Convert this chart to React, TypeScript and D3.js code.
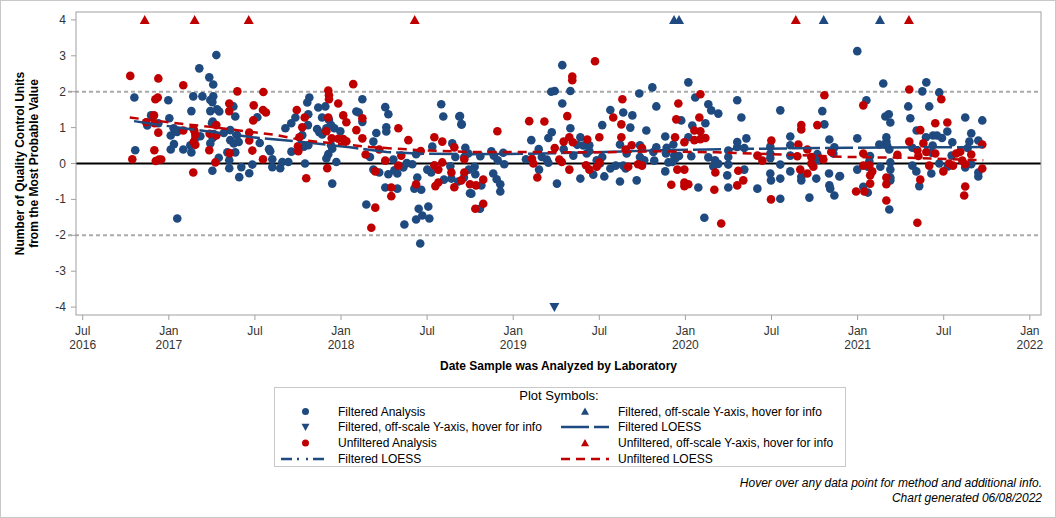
import React from "react";
import * as d3 from "d3";

// ---- data (decimal year, QC units) ----
const filteredAnalysis: [number, number][] = [
  [2017.276,3.02],[2017.177,2.65],[2017.235,2.40],[2017.258,2.20],[2016.800,1.84],[2017.142,1.87],[2017.195,1.87],[2017.258,1.87],[2016.997,1.76],[2017.241,1.77],[2017.253,1.71],[2017.131,1.46],[2017.241,1.46],[2017.280,1.51],[2017.293,1.45],[2017.375,1.59],[2017.386,1.31],[2016.897,1.34],[2017.003,1.26],[2016.875,1.06],[2016.939,1.12],[2017.255,1.17],[2017.251,1.12],[2017.028,0.98],[2017.048,0.88],[2017.011,0.78],[2017.183,0.76],[2017.154,0.70],[2017.255,0.71],[2017.261,0.82],[2017.319,0.85],[2017.357,0.93],[2017.396,0.79],[2017.357,0.65],[2017.377,0.56],[2017.406,0.60],[2017.514,1.29],[2017.528,0.57],[2017.030,0.54],[2017.011,0.39],[2017.084,0.39],[2017.131,0.31],[2017.125,0.51],[2017.241,0.56],[2017.340,0.31],[2017.386,0.31],[2017.351,0.09],[2016.805,0.37],[2017.582,0.40],[2017.589,0.34],[2017.601,0.12],[2017.290,0.16],[2017.351,-0.13],[2017.253,-0.20],[2017.421,-0.10],[2017.409,-0.38],[2017.467,-0.27],[2017.485,-0.03],[2017.601,-0.10],[2017.049,-1.53],
  [2017.816,1.84],[2017.804,1.70],[2018.124,1.79],[2017.868,1.56],[2017.909,1.59],[2018.089,1.45],[2018.103,1.42],[2018.257,1.57],[2018.275,1.37],[2017.735,1.28],[2017.711,1.12],[2017.677,0.98],[2017.810,1.37],[2017.808,1.07],[2017.890,1.28],[2017.930,1.21],[2017.942,1.07],[2017.861,0.96],[2017.874,0.87],[2017.891,0.81],[2017.915,0.98],[2017.961,0.98],[2017.996,0.90],[2018.263,1.01],[2018.263,0.89],[2018.124,1.16],[2018.205,0.85],[2018.188,0.61],[2018.582,1.65],[2018.594,1.31],[2018.687,1.31],[2018.699,1.09],[2017.775,0.79],[2017.785,0.47],[2017.810,0.51],[2017.712,0.33],[2017.942,0.51],[2017.949,0.41],[2017.926,0.26],[2017.915,0.14],[2017.973,0.04],[2017.791,0.00],[2017.647,-0.13],[2017.659,0.04],[2017.694,0.04],[2018.168,0.18],[2018.188,-0.17],[2018.222,-0.25],[2018.275,-0.30],[2018.304,0.11],[2018.310,-0.19],[2018.327,-0.28],[2018.362,-0.11],[2018.382,0.01],[2018.414,-0.02],[2018.436,0.26],[2018.443,-0.39],[2018.426,-0.70],[2018.466,-0.73],[2018.257,-0.67],[2018.327,-0.70],[2018.147,-1.14],[2018.451,-1.26],[2018.507,-1.20],[2018.436,-1.56],[2018.472,-1.45],[2018.513,-1.53],[2018.368,-1.70],[2018.460,-2.23],[2017.949,-0.56],[2018.530,0.47],[2018.646,0.56],[2018.664,0.18],[2018.722,0.44],[2018.716,0.18],[2018.501,-0.17],[2018.524,-0.25],[2018.635,-0.08],[2018.598,-0.45],[2018.641,-0.42],[2018.681,-0.50],[2018.749,-0.83],[2018.742,-0.17],
  [2019.285,2.74],[2019.221,2.00],[2019.241,2.02],[2019.332,2.02],[2019.285,1.67],[2018.691,1.32],[2018.701,1.09],[2019.332,0.98],[2019.224,0.87],[2019.204,0.71],[2019.105,0.65],[2019.564,1.49],[2019.639,1.42],[2019.692,1.34],[2019.517,1.07],[2019.680,1.00],[2019.732,1.95],[2019.808,2.12],[2019.831,1.59],[2019.773,0.92],[2019.390,0.73],[2019.372,0.52],[2019.407,0.50],[2019.442,0.51],[2019.427,0.28],[2019.442,0.35],[2019.148,0.40],[2019.166,0.18],[2019.195,0.11],[2019.204,0.02],[2019.074,0.12],[2019.293,0.40],[2019.349,0.22],[2018.873,0.34],[2018.887,0.22],[2018.910,0.09],[2018.942,0.30],[2018.948,-0.02],[2018.739,0.28],[2018.809,0.20],[2018.776,-0.09],[2018.780,-0.30],[2018.714,-0.39],[2018.884,-0.28],[2018.904,-0.44],[2018.925,-0.58],[2018.925,-0.78],[2018.757,-0.84],[2018.807,-1.26],[2018.815,-0.61],[2019.150,-0.17],[2019.254,-0.56],[2019.390,-0.42],[2019.465,-0.31],[2019.529,-0.36],[2019.620,-0.50],[2019.717,-0.47],[2019.517,0.18],[2019.564,-0.14],[2019.595,-0.06],[2019.639,-0.06],[2019.653,-0.14],[2019.620,0.53],[2019.659,0.28],[2019.736,0.51],[2019.736,0.18],[2019.761,0.09],[2019.819,0.08],[2019.831,0.45],[2019.504,0.00],[2019.485,0.09],
  [2020.017,2.26],[2020.057,1.84],[2020.133,1.65],[2020.150,1.48],[2020.191,1.39],[2020.301,1.76],[2020.325,1.28],[2019.976,1.20],[2020.040,1.06],[2020.116,1.12],[2019.883,0.75],[2020.017,0.73],[2019.930,0.53],[2020.354,0.70],[2020.301,0.60],[2020.301,0.46],[2020.342,0.43],[2019.891,0.44],[2019.814,0.32],[2019.887,0.28],[2019.935,0.22],[2019.963,0.21],[2019.941,0.13],[2019.901,0.03],[2019.924,0.04],[2020.034,0.20],[2020.133,0.17],[2020.172,0.09],[2020.174,-0.01],[2020.162,-0.08],[2020.191,-0.01],[2020.249,0.36],[2020.249,0.18],[2020.249,-0.03],[2020.243,-0.33],[2020.249,-0.67],[2019.883,-0.22],[2020.075,-0.67],[2020.342,-0.17],[2020.418,-0.70],[2020.110,-1.51],[2020.551,1.48],[2020.609,0.75],[2020.609,0.51],[2020.609,0.22],[2020.609,-0.22],[2020.551,-0.03],[2020.551,-0.42],[2020.551,-0.98],[2020.493,0.47],[2020.493,0.28],[2020.493,0.15],[2020.493,-0.28],[2020.497,-0.47],[2020.673,-0.37],[2020.673,-0.47],[2020.760,-0.42],[2020.720,-0.95],[2020.795,1.46],[2020.807,1.09],[2020.836,0.67],[2020.865,0.45],[2020.859,0.28],[2020.766,0.26],[2020.766,0.09],[2020.834,-0.28],[2020.836,-0.61],[2020.841,-0.70],[2020.865,-0.89],[2020.894,-0.36],
  [2020.998,3.13],[2021.149,2.23],[2021.399,2.26],[2021.376,2.01],[2021.474,1.98],[2021.051,1.76],[2021.294,1.59],[2021.416,1.59],[2021.161,1.31],[2021.181,1.37],[2021.190,1.14],[2021.306,1.26],[2021.625,1.28],[2021.724,1.20],[2021.343,0.92],[2020.998,0.70],[2021.167,0.73],[2021.167,0.61],[2021.171,0.50],[2021.184,0.39],[2021.126,0.53],[2021.397,0.73],[2021.438,0.78],[2021.461,0.78],[2021.490,0.71],[2021.521,0.89],[2021.550,0.59],[2021.660,0.84],[2021.649,0.61],[2021.701,0.64],[2021.639,0.43],[2021.436,0.50],[2021.430,0.30],[2021.318,0.44],[2021.072,0.21],[2021.068,0.06],[2021.546,0.22],[2021.474,0.00],[2021.524,-0.08],[2021.625,-0.11],[2021.660,-0.02],[2021.701,-0.25],[2021.701,-0.36],[2021.318,-0.06],[2021.341,-0.22],[2021.428,-0.28],[2021.190,0.03],[2021.190,-0.17],[2021.190,-0.39],[2021.190,-0.47],[2021.059,-0.09],[2021.059,-0.81],[2021.033,-0.65],[2020.998,-0.17],[2020.898,-0.35],[2021.358,-0.63],[2021.184,-1.28],[2021.132,-0.09],
];

const unfilteredAnalysis: [number, number][] = [
  [2016.776,2.44],[2016.939,2.37],[2017.084,2.18],[2017.398,2.01],[2017.549,1.99],[2016.922,1.79],[2016.936,1.84],[2016.914,1.34],[2016.868,1.15],[2016.918,1.12],[2016.939,0.86],[2016.916,0.37],[2016.788,0.12],[2016.924,0.07],[2016.943,0.11],[2016.956,0.11],[2017.084,0.92],[2017.142,0.98],[2017.148,0.91],[2017.154,0.80],[2017.144,0.60],[2017.154,0.52],[2017.142,-0.25],[2017.235,0.37],[2017.237,0.83],[2017.276,1.07],[2017.276,0.78],[2017.270,0.03],[2017.351,1.67],[2017.351,1.46],[2017.353,0.29],[2017.467,0.86],[2017.467,0.64],[2017.493,1.62],[2017.490,1.20],[2017.547,1.49],[2017.564,1.42],[2017.485,0.36],[2017.547,0.12],
  [2018.071,2.21],[2017.926,2.03],[2017.930,1.90],[2017.930,1.79],[2017.984,1.67],[2017.743,1.49],[2017.789,1.28],[2017.926,1.28],[2018.013,1.34],[2018.031,1.15],[2018.124,1.26],[2017.775,1.01],[2018.089,0.93],[2017.915,0.90],[2018.333,0.98],[2018.391,0.65],[2017.758,0.73],[2017.946,0.70],[2017.984,0.69],[2018.013,0.68],[2018.031,0.62],[2018.124,0.70],[2017.750,0.48],[2017.752,0.34],[2018.143,0.25],[2018.222,0.39],[2018.257,0.08],[2018.350,0.22],[2017.920,-0.13],[2017.798,-0.41],[2018.199,-0.22],[2018.333,-0.06],[2018.292,-0.67],[2018.292,-0.91],[2018.199,-1.23],[2018.176,-1.79],[2018.436,-0.58],[2018.463,0.35],[2018.542,0.73],[2018.588,0.61],[2018.542,-0.05],[2018.565,-0.17],[2018.588,0.03],[2018.548,-0.63],[2018.565,-0.53],[2018.641,-0.25],[2018.658,0.45],[2018.658,-0.66],[2018.699,-0.47],[2018.716,-0.25],[2018.716,0.12],[2018.749,-0.58],
  [2019.475,2.85],[2019.343,2.42],[2019.343,2.32],[2019.634,1.79],[2019.581,1.28],[2019.628,1.09],[2019.314,1.32],[2019.093,1.18],[2019.181,1.17],[2018.908,0.90],[2019.500,0.73],[2019.628,0.73],[2019.326,0.73],[2019.346,0.59],[2019.293,0.61],[2019.430,0.67],[2019.241,0.43],[2019.688,0.51],[2019.653,0.39],[2019.748,0.43],[2019.109,0.13],[2019.117,0.00],[2019.268,0.11],[2019.282,0.04],[2019.326,-0.17],[2019.423,-0.05],[2019.442,-0.17],[2019.485,-0.09],[2019.500,0.03],[2019.668,-0.09],[2019.725,-0.02],[2019.748,-0.06],[2019.140,-0.39],[2018.784,-0.61],[2018.826,-0.45],[2018.780,-1.26],[2018.826,-1.12],
  [2020.087,1.93],[2019.959,1.67],[2019.947,1.23],[2020.081,1.28],[2020.052,0.92],[2020.087,0.90],[2019.940,0.73],[2020.052,0.65],[2020.087,0.68],[2020.116,0.71],[2019.994,0.59],[2019.953,-0.17],[2019.994,-0.17],[2019.918,-0.59],[2019.994,-0.53],[2019.994,-0.63],[2020.017,-0.58],[2020.168,-0.73],[2020.174,-0.25],[2020.208,-1.67],[2020.307,-0.20],[2020.301,-0.61],[2020.336,-0.47],[2020.418,0.22],[2020.447,0.08],[2020.499,0.64],[2020.497,-1.00],[2020.673,1.07],[2020.673,0.95],[2020.656,0.53],[2020.650,0.20],[2020.708,0.39],[2020.667,-0.17],[2020.708,-0.28],[2020.731,0.18],[2020.731,0.00],[2020.743,-0.09],[2020.766,1.07],[2020.807,1.90],[2020.801,0.11],[2020.847,0.32],
  [2021.033,1.62],[2021.300,2.06],[2021.486,1.79],[2021.364,0.93],[2021.451,1.12],[2021.521,1.14],[2021.300,0.61],[2021.382,0.56],[2021.347,0.37],[2021.353,0.21],[2021.399,0.32],[2021.451,0.28],[2021.231,0.24],[2021.033,0.28],[2021.573,0.28],[2021.596,0.33],[2021.660,0.25],[2021.724,0.53],[2021.033,-0.06],[2021.068,-0.05],[2021.085,-0.22],[2021.073,-0.33],[2021.073,-0.56],[2021.416,-0.06],[2021.498,-0.22],[2021.531,0.00],[2021.554,-0.06],[2021.608,0.08],[2021.625,-0.02],[2021.724,-0.14],[2021.167,-0.39],[2021.167,-0.58],[2021.364,-0.45],[2020.991,-0.78],[2021.039,-0.78],[2021.167,-1.03],[2021.625,-0.64],[2021.619,-0.89],[2021.347,-1.65],
];

// off-scale points (dates only; drawn at the axis limit)
const filteredOffHigh = [2019.934, 2019.963, 2020.803, 2021.130];
const filteredOffLow = [2019.239];
const unfilteredOffHigh = [2016.860, 2017.150, 2017.464, 2018.428, 2020.641, 2021.298];

const filteredLoess: [number, number][] = [
  [2016.798,1.18],[2017.086,0.98],[2017.523,0.71],[2017.738,0.62],[2018.052,0.45],[2018.265,0.32],[2018.478,0.27],[2018.749,0.26],[2019.078,0.27],[2019.463,0.31],[2019.852,0.37],[2020.375,0.41],[2020.956,0.44],[2021.730,0.46],
];
const unfilteredLoess: [number, number][] = [
  [2016.773,1.28],[2017.086,1.10],[2017.241,1.02],[2017.629,0.79],[2017.775,0.65],[2018.168,0.46],[2018.459,0.37],[2018.749,0.32],[2019.078,0.32],[2019.465,0.31],[2019.852,0.34],[2020.181,0.31],[2020.568,0.25],[2020.956,0.18],[2021.285,0.16],[2021.730,0.09],
];

const xTickValues = [2016.5, 2017, 2017.5, 2018, 2018.5, 2019, 2019.5, 2020, 2020.5, 2021, 2021.5, 2022];
const xTickMonths = ["Jul", "Jan", "Jul", "Jan", "Jul", "Jan", "Jul", "Jan", "Jul", "Jan", "Jul", "Jan"];
const xTickYears = ["2016", "2017", "", "2018", "", "2019", "", "2020", "", "2021", "", "2022"];
const yTickValues = [-4, -3, -2, -1, 0, 1, 2, 3, 4];

const BLUE = "#1f4a80";
const RED = "#c00000";
const FONT = "'Liberation Sans', Arial, Helvetica, sans-serif";

const W = 1056, H = 518;
const L = 76, R = 1041, T = 12, B = 315;

const x = d3.scaleLinear().domain([2016.461, 2022.065]).range([L, R]);
const y = d3.scaleLinear().domain([-4.22, 4.22]).range([B, T]);

const line = d3.line<[number, number]>().x(d => x(d[0])).y(d => y(d[1]));

function triUp(cx: number, cy: number, s: number) {
  return `M${cx},${cy - s}L${cx + s},${cy + s * 0.8}L${cx - s},${cy + s * 0.8}Z`;
}
function triDown(cx: number, cy: number, s: number) {
  return `M${cx},${cy + s}L${cx + s},${cy - s * 0.8}L${cx - s},${cy - s * 0.8}Z`;
}

export default function App() {
  const legendRows = [411.5, 427, 443, 459];
  const c1s = 305.5, c1t = 338, c2s = 585, c2t = 618;
  return (
    <div style={{ position: "fixed", left: 0, top: 0 }}>
      <svg width={W} height={H} style={{ display: "block", fontFamily: FONT }}>
        <rect x={0.5} y={0.5} width={W - 1} height={H - 1} fill="#fff" stroke="#c8c8c8" />
        {/* reference lines */}
        {[2, -2].map(v => (
          <line key={v} x1={L - 8} x2={R} y1={y(v)} y2={y(v)} stroke="#aaaaaa" strokeWidth={2} strokeDasharray="4,3" />
        ))}
        <line x1={L} x2={R} y1={y(0)} y2={y(0)} stroke="#000" strokeWidth={2} />
        {/* points */}
        {filteredAnalysis.map((d, i) => (
          <circle key={"f" + i} cx={x(d[0])} cy={y(d[1])} r={4.3} fill={BLUE} />
        ))}
        {unfilteredAnalysis.map((d, i) => (
          <circle key={"u" + i} cx={x(d[0])} cy={y(d[1])} r={4.3} fill={RED} />
        ))}
        {/* loess */}
        <path d={line(filteredLoess) || ""} fill="none" stroke={BLUE} strokeWidth={2.5} strokeDasharray="28,5" />
        <path d={line(unfilteredLoess) || ""} fill="none" stroke={RED} strokeWidth={2.5} strokeDasharray="9,6" />
        {/* off-scale */}
        {filteredOffHigh.map((d, i) => (
          <path key={"fh" + i} d={triUp(x(d), y(4), 5)} fill={BLUE} />
        ))}
        {filteredOffLow.map((d, i) => (
          <path key={"fl" + i} d={triDown(x(d), y(-4), 5)} fill={BLUE} />
        ))}
        {unfilteredOffHigh.map((d, i) => (
          <path key={"uh" + i} d={triUp(x(d), y(4), 5)} fill={RED} />
        ))}
        {/* frame */}
        <rect x={L} y={T} width={R - L} height={B - T} fill="none" stroke="#a0a0a0" />
        {/* y axis */}
        {yTickValues.map(v => (
          <g key={"yt" + v}>
            <line x1={L - 5} x2={L} y1={y(v)} y2={y(v)} stroke="#a0a0a0" />
            <text x={L - 10} y={y(v) + 4} textAnchor="end" fontSize={12} fill="#333">{v}</text>
          </g>
        ))}
        {/* x axis */}
        {xTickValues.map((v, i) => (
          <g key={"xt" + v}>
            <line x1={x(v)} x2={x(v)} y1={B} y2={B + 5} stroke="#a0a0a0" />
            <text x={x(v)} y={335} textAnchor="middle" fontSize={12} fill="#333">{xTickMonths[i]}</text>
            {xTickYears[i] && (
              <text x={x(v)} y={349} textAnchor="middle" fontSize={12} fill="#333">{xTickYears[i]}</text>
            )}
          </g>
        ))}
        <text x={(L + R) / 2} y={370} textAnchor="middle" fontSize={12} fontWeight="bold" fill="#000">
          Date Sample was Analyzed by Laboratory
        </text>
        <g transform={`translate(24,${(T + B) / 2}) rotate(-90)`}>
          <text x={0} y={0} textAnchor="middle" fontSize={12} fontWeight="bold" fill="#000">Number of Quality Control Units</text>
          <text x={0} y={14} textAnchor="middle" fontSize={12} fontWeight="bold" fill="#000">from the Most Probable Value</text>
        </g>
        {/* legend */}
        <rect x={274.5} y={387.5} width={571} height={79} fill="#fff" stroke="#c8c8c8" />
        <text x={559} y={400} textAnchor="middle" fontSize={13} fill="#000">Plot Symbols:</text>
        <circle cx={c1s} cy={legendRows[0]} r={3.5} fill={BLUE} />
        <text x={c1t} y={legendRows[0] + 4} fontSize={12}>Filtered Analysis</text>
        <path d={triUp(c2s, legendRows[0], 4)} fill={BLUE} />
        <text x={c2t} y={legendRows[0] + 4} fontSize={12}>Filtered, off-scale Y-axis, hover for info</text>

        <path d={triDown(c1s, legendRows[1], 4)} fill={BLUE} />
        <text x={c1t} y={legendRows[1] + 4} fontSize={12}>Filtered, off-scale Y-axis, hover for info</text>
        <line x1={561} x2={609} y1={legendRows[1]} y2={legendRows[1]} stroke={BLUE} strokeWidth={2.5} strokeDasharray="28,5" />
        <text x={c2t} y={legendRows[1] + 4} fontSize={12}>Filtered LOESS</text>

        <circle cx={c1s} cy={legendRows[2]} r={3.5} fill={RED} />
        <text x={c1t} y={legendRows[2] + 4} fontSize={12}>Unfiltered Analysis</text>
        <path d={triUp(c2s, legendRows[2], 4)} fill={RED} />
        <text x={c2t} y={legendRows[2] + 4} fontSize={12}>Unfiltered, off-scale Y-axis, hover for info</text>

        <line x1={281} x2={324} y1={legendRows[3]} y2={legendRows[3]} stroke={BLUE} strokeWidth={2.5} strokeDasharray="11,5,2,7,2,5" />
        <text x={c1t} y={legendRows[3] + 4} fontSize={12}>Filtered LOESS</text>
        <line x1={561} x2={609} y1={legendRows[3]} y2={legendRows[3]} stroke={RED} strokeWidth={2.5} strokeDasharray="9,6" />
        <text x={c2t} y={legendRows[3] + 4} fontSize={12}>Unfiltered LOESS</text>

        {/* footnotes */}
        <text x={1042} y={487} textAnchor="end" fontSize={12} fontStyle="italic">Hover over any data point for method and additional info.</text>
        <text x={1042} y={502} textAnchor="end" fontSize={12} fontStyle="italic">Chart generated 06/08/2022</text>
      </svg>
    </div>
  );
}
